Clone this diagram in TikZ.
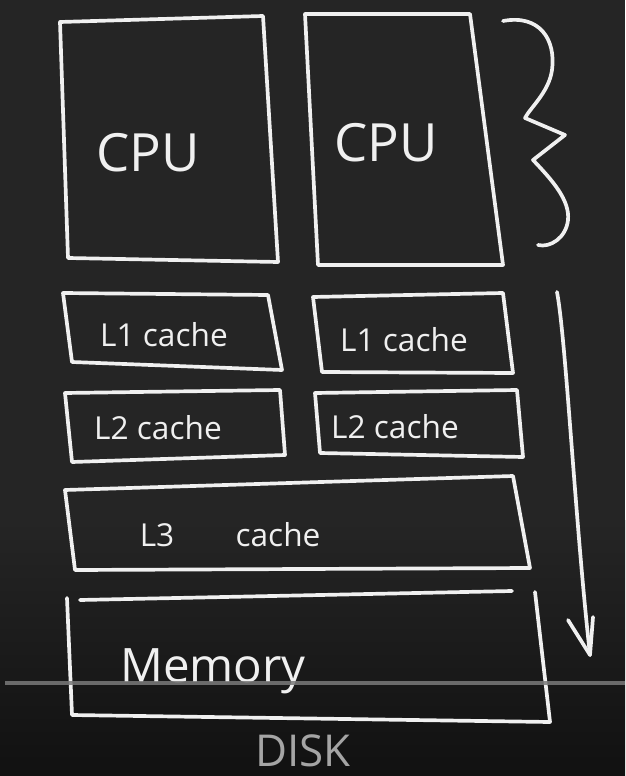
\documentclass[tikz,border=0pt]{standalone}
\usepackage{fontspec}
\setmainfont{Open Sans}
\usetikzlibrary{positioning}
\definecolor{board}{HTML}{252525}
\definecolor{boardlow}{HTML}{111111}
\definecolor{chalk}{HTML}{F0F0F0}
\definecolor{faint}{HTML}{A5A5A5}
\definecolor{bar}{HTML}{7A7A7A}

\begin{document}
\begin{tikzpicture}[x = .02cm, y = -.02cm,
  stroke/.style = {draw = chalk, line width = 2.1pt, line join = round, line cap = round},
  word/.style = {text = chalk, inner sep = 0pt},
  bigword/.style = {word, font = \fontsize{30}{32}\selectfont},
  smallword/.style = {word, font = \fontsize{18}{20}\selectfont}]
\useasboundingbox (0,0) rectangle (625,776);
\fill[board] (0,0) rectangle (625,776);
\shade[top color = board, bottom color = boardlow] (0,520) rectangle (625,776);

% processors
\draw[stroke] (60,22) -- (263,16) -- (278,262) -- (68,258) -- cycle;
\draw[stroke] (305,14) -- (470,14) -- (503,265) -- (318,265) -- cycle;
\node[bigword] (cpuL) at (148,153) {CPU};
\node[bigword] (cpuR) at (386,143) {CPU};

% brace next to the processors
\draw[stroke] (503,21) .. controls (540,14) and (556,40) .. (552,70)
  .. controls (549,92) and (530,108) .. (525,118) -- (565,135) -- (533,160)
  .. controls (552,180) and (570,200) .. (568,220)
  .. controls (566,238) and (550,248) .. (538,245);

% per core caches
\draw[stroke] (63,293) -- (268,295) -- (282,370) -- (72,362) -- cycle;
\draw[stroke] (313,297) -- (503,293) -- (513,373) -- (322,372) -- cycle;
\node[smallword] (loneL) at (164,335) {L1 cache};
\node[smallword] (loneR) at (404,340) {L1 cache};
\draw[stroke] (65,393) -- (280,390) -- (285,455) -- (72,462) -- cycle;
\draw[stroke] (315,393) -- (517,390) -- (523,457) -- (320,453) -- cycle;
\node[smallword] (ltwoL) at (158,428) {L2 cache};
\node[smallword] (ltwoR) at (395,427) {L2 cache};

% shared cache
\draw[stroke] (65,490) -- (513,476) -- (530,568) -- (75,570) -- cycle;
\node[smallword] (lthreeA) at (157,535) {L3};
\node[smallword] (lthreeB) at (278,535) {cache};

% memory
\draw[stroke] (80,600) -- (512,591);
\draw[stroke] (67,598) -- (72,715) -- (550,722) -- (535,592);
\node[bigword, font = \fontsize{27}{29}\selectfont] (mem) at (213,671) {Memory};

% disk, at the lower edge
\node[bigword, text = faint, font = \fontsize{25}{27}\selectfont] (disk) at (303,751) {DISK};

% speed arrow
\coordinate (fast) at (557,292);
\coordinate (slow) at (590,655);
\draw[stroke] (fast) .. controls (566,340) and (575,520) .. (slow);
\draw[stroke] (568,620) -- (slow) -- (593,617);

% video bar
\draw[bar, line width = 2.2pt, opacity = .85] (5,683) -- (625,683);
\end{tikzpicture}
\end{document}
